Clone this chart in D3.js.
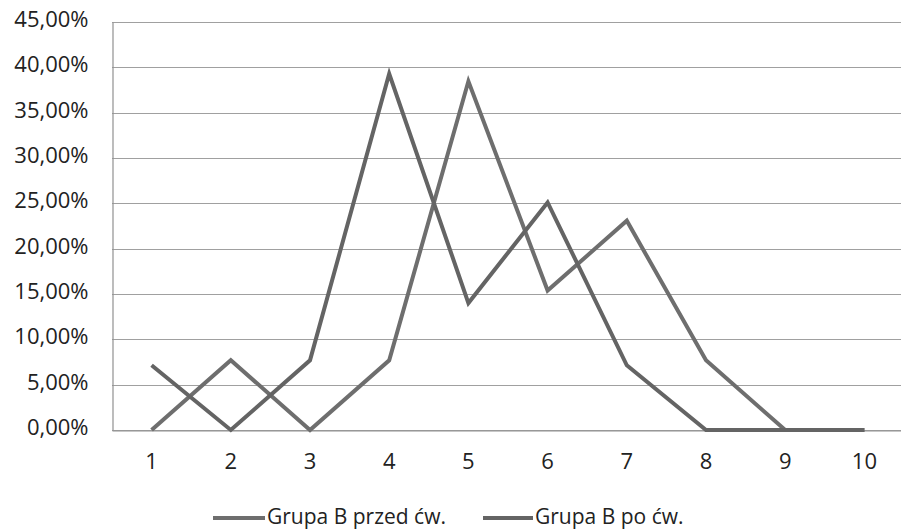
<!DOCTYPE html>
<html>
<head>
<meta charset="utf-8">
<script src="https://cdn.jsdelivr.net/npm/d3@7"></script>
<style>
  html, body { margin: 0; padding: 0; background: #fff; }
  svg { display: block; }
  text { font-family: "Open Sans", "Noto Sans", sans-serif; fill: #222; }
</style>
</head>
<body>
<svg id="chart" width="901" height="531"></svg>
<script>
const categories = ["1", "2", "3", "4", "5", "6", "7", "8", "9", "10"];
const seriesNames = ["Grupa B przed ćw.", "Grupa B po ćw."];
const przedValues = [0, 7.69, 0, 7.69, 38.46, 15.38, 23.08, 7.69, 0, 0];
const poValues = [7.14, 0, 7.69, 39.29, 14.0, 25.1, 7.14, 0, 0, 0];
const yTickValues = [0, 5, 10, 15, 20, 25, 30, 35, 40, 45];

const series = [
  { name: seriesNames[0], values: przedValues, color: "#6e6e6e" },
  { name: seriesNames[1], values: poValues, color: "#646464" }
];

const svg = d3.select("#chart");
const plotLeft = 112, plotRight = 904, plotTop = 22, plotBottom = 430;

const x = d3.scaleBand().domain(categories).range([plotLeft, plotRight]);
const y = d3.scaleLinear().domain([0, 45]).range([plotBottom, plotTop]);
const fmt = v => d3.format(".2f")(v).replace(".", ",") + "%";

// gridlines
svg.append("g").selectAll("line").data(yTickValues).join("line")
  .attr("x1", plotLeft).attr("x2", plotRight)
  .attr("y1", d => Math.round(y(d)) + 0.5).attr("y2", d => Math.round(y(d)) + 0.5)
  .attr("stroke", "#a0a0a0").attr("stroke-width", 1.2);

// y axis
const yAxis = svg.append("g").attr("transform", `translate(${plotLeft + 0.5},0)`)
  .call(d3.axisLeft(y).tickValues(yTickValues).tickFormat(fmt).tickSize(0).tickPadding(24));
yAxis.select(".domain").attr("stroke", "#909090").attr("stroke-width", 1.2);
yAxis.selectAll("text").attr("font-size", 22).attr("dy", "0.2em").style("fill", "#222");

// x axis
const xAxis = svg.append("g").attr("transform", `translate(0,${plotBottom + 0.5})`)
  .call(d3.axisBottom(x).tickSize(0).tickPadding(23));
xAxis.select(".domain").attr("stroke", "#909090").attr("stroke-width", 1.2);
xAxis.selectAll("text").attr("font-size", 22).style("fill", "#222");

// lines
const line = d3.line()
  .x((d, i) => x(categories[i]) + x.bandwidth() / 2)
  .y(d => y(d));

svg.append("g").selectAll("path").data(series).join("path")
  .attr("d", d => line(d.values))
  .attr("fill", "none")
  .attr("stroke", d => d.color)
  .attr("stroke-width", 4)
  .attr("stroke-linejoin", "miter");

// legend
const legendPos = [{ lx: 213, tx: 267 }, { lx: 483, tx: 535 }];
const legend = svg.append("g").selectAll("g").data(series).join("g");
legend.append("line")
  .attr("x1", (d, i) => legendPos[i].lx).attr("x2", (d, i) => legendPos[i].tx - 2)
  .attr("y1", 518).attr("y2", 518)
  .attr("stroke", d => d.color).attr("stroke-width", 4);
legend.append("text")
  .attr("x", (d, i) => legendPos[i].tx).attr("y", 524)
  .attr("font-size", 21)
  .text(d => d.name);
</script>
</body>
</html>
